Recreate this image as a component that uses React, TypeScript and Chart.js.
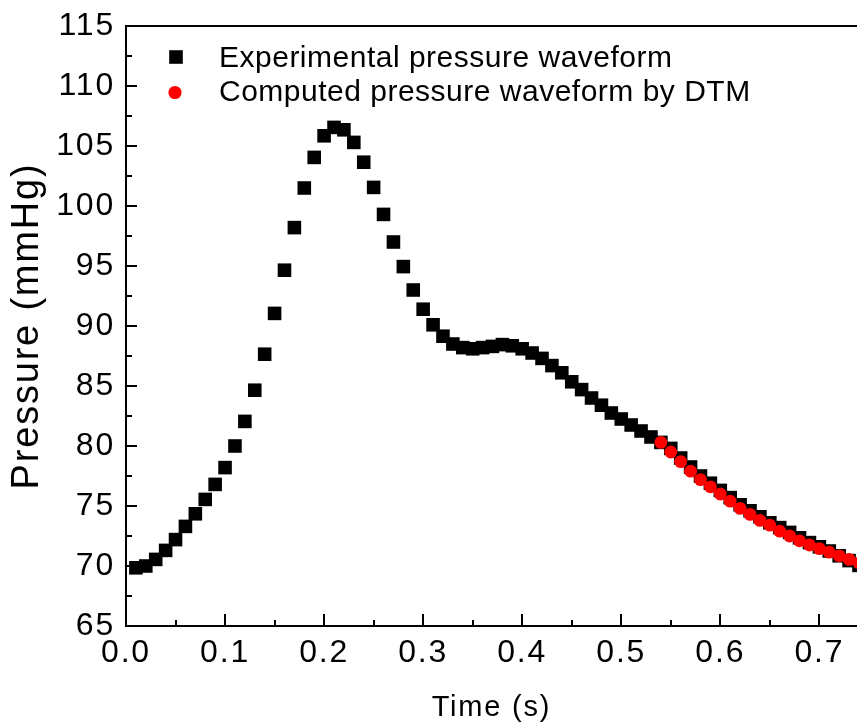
import React, { useEffect, useRef } from 'react';
import { Chart, registerables } from 'chart.js';

Chart.register(...registerables);

// ---- data ----
const expTime = [
  0.01, 0.02, 0.03, 0.04, 0.05, 0.06, 0.07, 0.08, 0.09, 0.10,
  0.11, 0.12, 0.13, 0.14, 0.15, 0.16, 0.17, 0.18, 0.19, 0.20,
  0.21, 0.22, 0.23, 0.24, 0.25, 0.26, 0.27, 0.28, 0.29, 0.30,
  0.31, 0.32, 0.33, 0.34, 0.35, 0.36, 0.37, 0.38, 0.39, 0.40,
  0.41, 0.42, 0.43, 0.44, 0.45, 0.46, 0.47, 0.48, 0.49, 0.50,
  0.51, 0.52, 0.53, 0.54, 0.55, 0.56, 0.57, 0.58, 0.59, 0.60,
  0.61, 0.62, 0.63, 0.64, 0.65, 0.66, 0.67, 0.68, 0.69, 0.70,
  0.71, 0.72, 0.73, 0.74,
];
const expPressure = [
  69.85, 70.0, 70.55, 71.3, 72.2, 73.3, 74.35, 75.55, 76.8, 78.2,
  80.0, 82.05, 84.65, 87.65, 91.05, 94.65, 98.2, 101.5, 104.05, 105.85,
  106.55, 106.35, 105.3, 103.65, 101.55, 99.3, 97.0, 94.95, 93.0, 91.4,
  90.1, 89.15, 88.5, 88.2, 88.1, 88.2, 88.3, 88.45, 88.35, 88.1,
  87.75, 87.3, 86.7, 86.1, 85.35, 84.7, 84.0, 83.4, 82.75, 82.25,
  81.75, 81.25, 80.75, 80.3, 79.8, 79.0, 78.25, 77.5, 76.9, 76.3,
  75.7, 75.1, 74.6, 74.1, 73.6, 73.2, 72.8, 72.35, 71.95, 71.6,
  71.25, 70.85, 70.45, 70.05,
];
const dtmTime = [
  0.54, 0.55, 0.56, 0.57, 0.58, 0.59, 0.60, 0.61, 0.62, 0.63,
  0.64, 0.65, 0.66, 0.67, 0.68, 0.69, 0.70, 0.71, 0.72, 0.73, 0.74,
];
const dtmPressure = [
  80.3, 79.5, 78.7, 77.9, 77.2, 76.6, 76.0, 75.4, 74.8, 74.3,
  73.8, 73.4, 72.9, 72.5, 72.1, 71.75, 71.45, 71.15, 70.85, 70.55, 70.25,
];
const xMajorTicks = [0, 0.1, 0.2, 0.3, 0.4, 0.5, 0.6, 0.7];
const yMajorTicks = [65, 70, 75, 80, 85, 90, 95, 100, 105, 110, 115];
const legendLabels = ['Experimental pressure waveform', 'Computed pressure waveform by DTM'];

const FONT = "'Liberation Sans', Arial, Helvetica, sans-serif";
const W = 857;
const H = 723;

export default function App() {
  const ref = useRef<HTMLCanvasElement>(null);

  useEffect(() => {
    const canvas = ref.current;
    if (!canvas) return;

    const spacingPlugin = {
      id: 'textSpacing',
      beforeDraw(chart: any) {
        (chart.ctx as any).letterSpacing = '1.8px';
      },
      beforeDatasetsDraw(chart: any) {
        (chart.ctx as any).letterSpacing = '0px';
      },
    };

    const framePlugin = {
      id: 'frameTicks',
      afterDraw(chart: any) {
        const { ctx, chartArea, scales } = chart;
        const xs = scales.x;
        const ys = scales.y;
        ctx.save();
        ctx.strokeStyle = '#000';
        ctx.lineWidth = 2;
        ctx.beginPath();
        // top frame line
        ctx.moveTo(chartArea.left - 1, chartArea.top);
        ctx.lineTo(chartArea.right, chartArea.top);
        // x ticks (inward)
        const xMinor: number[] = [];
        for (let i = 0; i < xMajorTicks.length; i++) {
          const m = xMajorTicks[i] + 0.05;
          if (m < xs.max) xMinor.push(m);
        }
        xMajorTicks.forEach((v) => {
          const px = Math.round(xs.getPixelForValue(v));
          ctx.moveTo(px, chartArea.bottom);
          ctx.lineTo(px, chartArea.bottom - 12);
        });
        xMinor.forEach((v) => {
          const px = Math.round(xs.getPixelForValue(v));
          ctx.moveTo(px, chartArea.bottom);
          ctx.lineTo(px, chartArea.bottom - 6);
        });
        // y ticks (inward)
        const yMinor: number[] = [];
        for (let i = 0; i < yMajorTicks.length - 1; i++) {
          yMinor.push((yMajorTicks[i] + yMajorTicks[i + 1]) / 2);
        }
        yMajorTicks.forEach((v) => {
          const py = Math.round(ys.getPixelForValue(v));
          ctx.moveTo(chartArea.left, py);
          ctx.lineTo(chartArea.left + 11, py);
        });
        yMinor.forEach((v) => {
          const py = Math.round(ys.getPixelForValue(v));
          ctx.moveTo(chartArea.left, py);
          ctx.lineTo(chartArea.left + 6, py);
        });
        ctx.stroke();
        ctx.restore();
      },
    };

    const legendPlugin = {
      id: 'insideLegend',
      afterDraw(chart: any) {
        const { ctx } = chart;
        const ds = chart.data.datasets;
        ctx.save();
        (ctx as any).letterSpacing = '0.5px';
        ctx.font = `30px ${FONT}`;
        ctx.textBaseline = 'middle';
        ctx.textAlign = 'left';
        const rows = [58.5, 93];
        // square marker
        ctx.fillStyle = ds[0].backgroundColor;
        ctx.fillRect(176 - 6.8, rows[0] - 1.5 - 6.8, 13.6, 13.6);
        // circle marker
        ctx.fillStyle = ds[1].backgroundColor;
        ctx.beginPath();
        ctx.arc(175, rows[1] - 0.5, 6.6, 0, Math.PI * 2);
        ctx.fill();
        ctx.fillStyle = '#000';
        ctx.fillText(legendLabels[0], 219, rows[0]);
        ctx.fillText(legendLabels[1], 219, rows[1]);
        ctx.restore();
      },
    };

    let pad = { left: 0, right: 0, top: 26, bottom: 0 };

    const chart = new Chart(canvas, {
      type: 'scatter',
      data: {
        datasets: [
          {
            label: legendLabels[0],
            data: expTime.map((t, i) => ({ x: t, y: expPressure[i] })),
            pointStyle: 'rect',
            pointRadius: 9.6,
            pointHoverRadius: 9.6,
            backgroundColor: '#000000',
            borderWidth: 0,
            order: 2,
          },
          {
            label: legendLabels[1],
            data: dtmTime.map((t, i) => ({ x: t, y: dtmPressure[i] })),
            pointStyle: 'circle',
            pointRadius: 6.4,
            pointHoverRadius: 6.4,
            backgroundColor: '#ff0000',
            borderWidth: 0,
            order: 1,
          },
        ],
      },
      options: {
        animation: false,
        responsive: false,
        events: [],
        layout: { autoPadding: false, padding: { ...pad } },
        plugins: {
          legend: { display: false },
          tooltip: { enabled: false },
        },
        scales: {
          x: {
            type: 'linear',
            min: 0,
            max: 0.738,
            grid: { display: false, drawTicks: false },
            border: { display: true, color: '#000', width: 2 },
            afterBuildTicks: (s: any) => {
              s.ticks = xMajorTicks.map((v) => ({ value: v }));
            },
            afterFit: (s: any) => {
              s.height = 97;
              s.paddingLeft = 0;
              s.paddingRight = 0;
            },
            ticks: {
              callback: (v: any) => Number(v).toFixed(1),
              font: { family: FONT, size: 32 },
              color: '#000',
              padding: 8,
              maxRotation: 0,
              minRotation: 0,
              autoSkip: false,
            },
            title: {
              display: true,
              text: 'Time (s)',
              color: '#000',
              font: { family: FONT, size: 29, lineHeight: 1 },
              padding: { top: 0, bottom: 1 },
            },
          },
          y: {
            type: 'linear',
            min: 65,
            max: 115,
            grid: { display: false, drawTicks: false },
            border: { display: true, color: '#000', width: 2 },
            afterBuildTicks: (s: any) => {
              s.ticks = yMajorTicks.map((v) => ({ value: v }));
            },
            afterFit: (s: any) => {
              s.width = 126;
              s.paddingTop = 0;
              s.paddingBottom = 0;
            },
            ticks: {
              callback: (v: any) => String(v),
              font: { family: FONT, size: 32 },
              color: '#000',
              padding: 11,
              autoSkip: false,
            },
            title: {
              display: true,
              text: 'Pressure (mmHg)',
              color: '#000',
              font: { family: FONT, size: 38 },
              padding: { top: 5, bottom: 0 },
            },
          },
        },
      },
      plugins: [spacingPlugin, framePlugin, legendPlugin],
    } as any);

    // keep the plot area running to the right edge of the picture (frame cut off there)
    for (let k = 0; k < 4; k++) {
      const ca = chart.chartArea;
      const dr = W - ca.right;
      const dt = 26 - ca.top;
      const db = 626 - ca.bottom;
      if (Math.abs(dr) < 0.5 && Math.abs(dt) < 0.5 && Math.abs(db) < 0.5) break;
      pad = { left: 0, right: pad.right - dr, top: pad.top + dt, bottom: pad.bottom - db };
      (chart.options as any).layout.padding = { ...pad };
      chart.update();
    }

    return () => {
      chart.destroy();
    };
  }, []);

  return (
    <div style={{ position: 'fixed', left: 0, top: 0, width: W, height: H, background: '#fff', overflow: 'hidden' }}>
      <canvas ref={ref} width={W} height={H} style={{ display: 'block' }} />
    </div>
  );
}
